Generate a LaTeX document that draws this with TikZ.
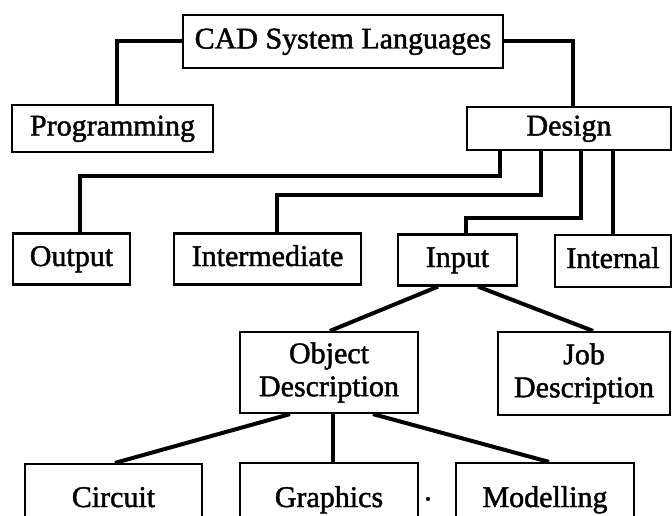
\documentclass[tikz,border=0pt]{standalone}
\usepackage{fontspec}
\setmainfont{Liberation Serif}
\newfontfamily\labelfont{Liberation Serif}[FakeBold=1.5]
\usetikzlibrary{calc}
\begin{document}
\begin{tikzpicture}[x=1pt,y=-1pt,
  box/.style={draw, line width=2.2pt, inner sep=0pt, align=center,
    font=\labelfont\fontsize{30}{33}\selectfont},
  onebox/.style={box, text height=20pt, text depth=6pt},
  link/.style={line width=4pt, line join=miter}]
\clip (0,0) rectangle (672,516);
\fill[white] (0,0) rectangle (672,516);

% top level
\node[onebox, minimum width=320pt, minimum height=53pt] (cad) at (343,41.5) {CAD System Languages};
\node[onebox, minimum width=201pt, minimum height=47pt] (prog) at (112.5,128.5) {Programming};
\node[onebox, minimum width=204pt, minimum height=43pt] (design) at (569,128.5) {Design};

% design languages
\node[onebox, minimum width=117pt, minimum height=51pt] (output) at (71.5,259) {Output};
\node[onebox, minimum width=187pt, minimum height=51pt] (inter) at (267.5,259) {Intermediate};
\node[onebox, minimum width=119pt, minimum height=51pt] (input) at (457.5,260) {Input};
\node[onebox, minimum width=116pt, minimum height=52pt] (internal) at (613,261) {Internal};

% input languages
\node[box, minimum width=178pt, minimum height=81pt] (objdesc) at (329,372.5) {Object\\Description};
\node[box, minimum width=172pt, minimum height=83pt] (jobdesc) at (584,373.5) {Job\\Description};

% object description languages (boxes run past the lower edge)
\node[onebox, minimum width=177pt, minimum height=72pt] (circuit) at (113.5,500) {Circuit};
\node[onebox, minimum width=178pt, minimum height=74pt] (graphics) at (329,500) {Graphics};
\node[onebox, minimum width=178pt, minimum height=74pt] (modelling) at (545,500) {Modelling};
\node[font=\labelfont\fontsize{30}{33}\selectfont, inner sep=0pt] (dot) at (428,499) {.};

% connectors
\draw[link] (cad.west) -| ([xshift=4.5pt]prog.north);
\draw[link] (cad.east) -| ([xshift=4pt]design.north);

\draw[link] ([xshift=-69pt]design.south) -- ++(0,25) -| ([xshift=8.5pt]output.north);
\draw[link] ([xshift=-28pt]design.south) -- ++(0,44) -| ([xshift=9.5pt]inter.north);
\draw[link] ([xshift=12pt]design.south) -- ++(0,67) -| ([xshift=8.5pt]input.north);
\draw[link] ([xshift=44pt]design.south) -- (internal.north);

\draw[link] ([xshift=-19.5pt]input.south) -- ([xshift=1pt]objdesc.north);
\draw[link] ([xshift=20.5pt]input.south) -- ([xshift=9pt]jobdesc.north);

\draw[link] ([xshift=-39pt]objdesc.south) -- ([xshift=1.5pt]circuit.north);
\draw[link] ([xshift=4pt]objdesc.south) -- ([xshift=4pt]graphics.north);
\draw[link] ([xshift=44pt]objdesc.south) -- ([xshift=4pt]modelling.north);
\end{tikzpicture}
\end{document}
